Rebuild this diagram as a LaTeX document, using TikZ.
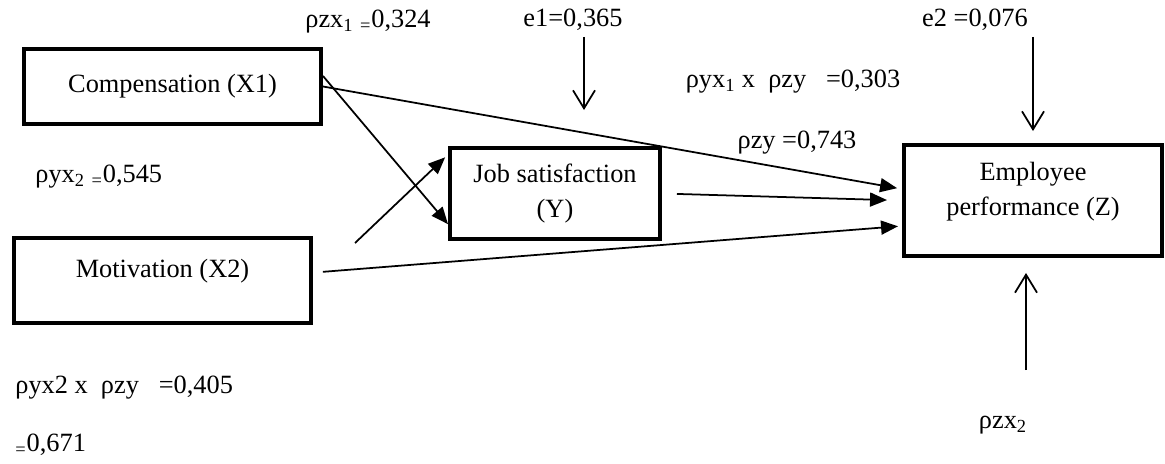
\documentclass[tikz,border=0pt]{standalone}
\usepackage{fontspec}
\setmainfont{Liberation Serif}
\usetikzlibrary{arrows.meta}

\tikzset{
	varbox/.style={draw, line width=0.08cm, align=center, inner sep=0pt},
	link/.style={line width=1pt, -{Triangle[length=0.34cm, width=0.28cm]}},
	errarrow/.style={line width=1pt, -{Straight Barb[length=0.36cm, width=0.44cm]}},
}

\begin{document}
\begin{tikzpicture}[x=0.02cm, y=-0.02cm, font=\fontsize{15}{20}\selectfont]
			\useasboundingbox (0,0) rectangle (1165,463);

			% Блоки
			\node[varbox, minimum width=5.94cm, minimum height=1.5cm] (comp) at (172.5,86.5) {Compensation (X1)};
			\node[varbox, minimum width=5.94cm, minimum height=1.7cm, text depth=0.5cm] (motiv) at (162.5,280.5) {Motivation (X2)};
			\node[varbox, minimum width=4.2cm, minimum height=1.82cm] (job) at (555,193.5) {Job satisfaction\\(Y)};
			\node[varbox, minimum width=5.16cm, minimum height=2.22cm, text depth=0.45cm] (empl) at (1033,200.5) {Employee\\performance (Z)};

			% Подписи
			\node (rzx1) at (368,22) {ρzx\textsubscript{1} \textsubscript{=}0,324};
			\node (e1) at (573,20) {e1=0,365};
			\node (ryx1) at (793,82) {ρyx\textsubscript{1} x\ \ ρzy\ \ \ =0,303};
			\node (rzy) at (797,143) {ρzy =0,743};
			\node (e2) at (975,20) {e2 =0,076};
			\node[anchor=west, inner sep=0pt] (ryx2) at (35,177) {ρyx\textsubscript{2} \textsubscript{=}0,545};
			\node[anchor=west, inner sep=0pt] (ind2) at (15,388) {ρyx2 x\ \ ρzy\ \ \ =0,405};
			\node[anchor=west, inner sep=0pt] (tot) at (15,445) {\textsubscript{=}0,671};
			\node (rzx2) at (1003,425) {ρzx\textsubscript{2}};

			\coordinate (e1tip) at (584,110);
			\coordinate (m2) at (355,243);
			\coordinate (rbase) at (1026,370);

			% Стрелки
			\draw[link, shorten >=0.1cm] (comp.east) -- (empl.175);
			\draw[link] (comp.4) -- (job.196);
			\draw[link, shorten >=0.08cm] (m2) -- (job.160);
			\draw[link, shorten <=0.3cm, shorten >=0.3cm] (job.east) -- (empl.west);
			\draw[link, shorten <=0.2cm, shorten >=0.08cm] (motiv.3) -- (empl.191);

			\draw[errarrow] (e1tip |- e1.south) -- (e1tip);
			\draw[errarrow, shorten >=0.24cm] (empl.north |- e2.south) -- (empl.north);
			\draw[errarrow, shorten >=0.3cm] (rbase) -- (rbase |- empl.south);
		\end{tikzpicture}
\end{document}
